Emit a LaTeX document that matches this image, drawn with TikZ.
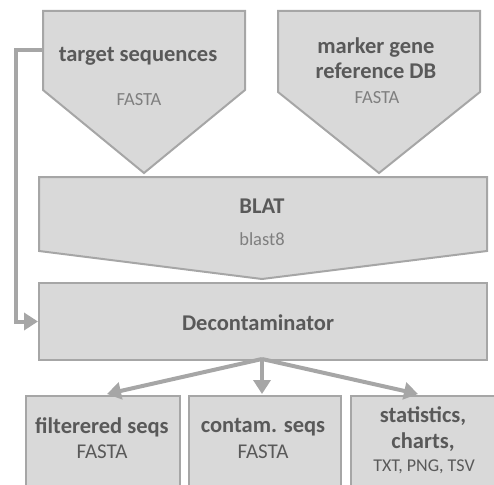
\documentclass[tikz,border=0pt]{standalone}
\usepackage{fontspec}
\setmainfont{Carlito}
\usetikzlibrary{arrows.meta}
\definecolor{fillg}{HTML}{D9D9D9}
\definecolor{lineg}{HTML}{A6A6A6}
\definecolor{txtd}{HTML}{595959}
\definecolor{txtl}{HTML}{7F7F7F}
\begin{document}
\begin{tikzpicture}[x=1pt,y=-1pt,
  shapebox/.style={fill=fillg,draw=lineg,line width=2pt,line join=miter},
  boxnode/.style={shapebox,rectangle,inner sep=0pt},
  conn/.style={draw=lineg,line width=4pt,-{Triangle[length=14pt,width=17pt]}},
  title/.style={font=\fontsize{22.5}{25.5}\selectfont\bfseries,text=txtd,align=center,inner sep=0pt},
  sub/.style={font=\fontsize{18.5}{22}\selectfont,text=txtl,inner sep=0pt},
  subd/.style={font=\fontsize{21}{24}\selectfont,text=txtd,align=center,inner sep=0pt}]
\useasboundingbox (0,0) rectangle (494,484);
% input pentagons
\draw[shapebox] (43,11) -- (245,11) -- (245,90) -- (144,173) -- (43,90) -- cycle;
\coordinate (tsw) at (43,50);
\node[title] (ts) at (138,56) {target sequences};
\node[sub] (tsf) at (139,100) {FASTA};
\draw[shapebox] (278,11) -- (480,11) -- (480,92) -- (379,173) -- (278,92) -- cycle;
\node[title] (mg) at (376,58) {marker gene\\reference DB};
\node[sub] (mgf) at (377,98) {FASTA};
% BLAT
\draw[shapebox] (39,177) -- (487,177) -- (487,251) -- (262,279) -- (39,251) -- cycle;
\node[title] (blat) at (262,206) {BLAT};
\node[sub] (blast) at (262,239) {blast8};
% Decontaminator
\node[boxnode,minimum width=448pt,minimum height=77pt] (dec) at (263,321.5) {};
\node[title] (dect) at (258,323) {Decontaminator};
% outputs
\node[boxnode,anchor=north west,minimum width=154pt,minimum height=100pt] (o1) at (25,395) {};
\node[boxnode,anchor=north west,minimum width=152pt,minimum height=100pt] (o2) at (188,395) {};
\node[boxnode,anchor=north west,minimum width=150pt,minimum height=100pt] (o3) at (350,395) {};
\node[title] (o1t) at (102,427) {filterered seqs};
\node[subd] (o1f) at (102,452) {FASTA};
\node[title] (o2t) at (263,427) {contam. seqs};
\node[subd] (o2f) at (263,452) {FASTA};
\node[title] (o3t) at (423,429) {statistics,\\charts,};
\node[subd, font=\fontsize{18}{22}\selectfont] (o3f) at (424,467) {TXT, PNG, TSV};
% connectors
\coordinate (decs) at (262,359);
\coordinate (leftx) at (16,50);
\coordinate (t1) at (107,394);
\coordinate (t2) at (262,394);
\coordinate (t3) at (418,394);
\draw[conn] (tsw) -- (leftx) |- (dec.west);
\draw[conn] (decs) -- (t1);
\draw[conn] (decs) -- (t2);
\draw[conn] (decs) -- (t3);
\end{tikzpicture}
\end{document}
